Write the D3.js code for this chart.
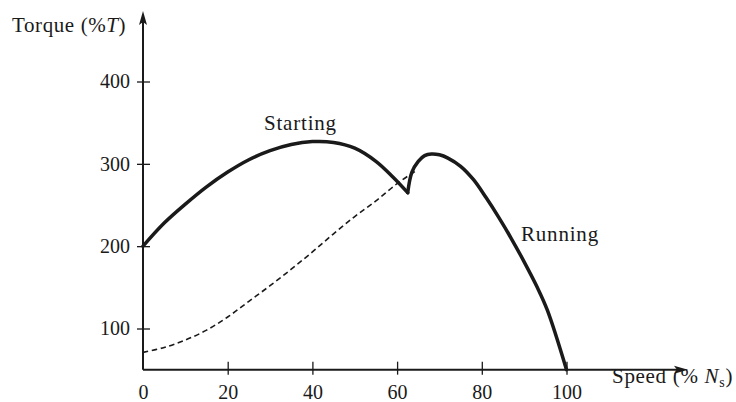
<!DOCTYPE html>
<html>
<head>
<meta charset="utf-8">
<script src="https://cdn.jsdelivr.net/npm/d3@7"></script>
<style>
  body { margin: 0; background: #fff; }
  text { font-family: 'Liberation Serif', 'Times New Roman', serif; fill: #1a1a1a; }
</style>
</head>
<body>
<div id="chart"></div>
<script>
// speed in % of synchronous speed, torque in % of rated torque
var startingSpeed  = [0, 5, 10, 15, 20, 25, 30, 35, 40, 45, 50, 55, 59, 62.5];
var startingTorque = [200, 228, 251, 272, 290, 305, 316, 323.5, 327, 326, 319, 303, 284, 265];

var runningSpeed  = [62.5, 63.5, 65, 66.5, 68.1, 70, 72, 75, 78, 81, 84, 87, 90, 93, 95.5, 100];
var runningTorque = [265, 290, 303, 310, 312, 311, 307, 297, 281, 259, 235, 209, 181, 151, 122, 50];

var dashedSpeed  = [0, 5, 10, 15, 20, 25, 30, 35, 40, 45, 50, 55, 60, 64.6];
var dashedTorque = [71, 77, 86, 98, 114, 133, 152, 172, 193, 215, 236, 255, 276, 292];

var xTicks = [0, 20, 40, 60, 80, 100];
var yTicks = [100, 200, 300, 400];

var width = 736,
  height = 402;

var x = d3.scaleLinear().domain([0, 100]).range([143, 566.5]);
var y = d3.scaleLinear().domain([100, 400]).range([328.5, 81.5]);

var axisY = y(50);   // x axis sits at 50 %T

var svg = d3.select('#chart').append('svg')
  .attr('width', width)
  .attr('height', height);

function zip(xs, ys) {
  return xs.map(function (d, i) { return [d, ys[i]]; });
}

var line = d3.line()
  .x(function (d) { return x(d[0]); })
  .y(function (d) { return y(d[1]); })
  .curve(d3.curveCatmullRom.alpha(0.5));

// axes lines + arrows
var ink = '#1a1a1a';
svg.append('line')
  .attr('x1', x(0)).attr('y1', axisY)
  .attr('x2', 680).attr('y2', axisY)
  .attr('stroke', ink).attr('stroke-width', 2);
svg.append('path')
  .attr('d', 'M688,' + axisY + 'L674,' + (axisY - 4) + 'L677,' + axisY + 'L674,' + (axisY + 4) + 'Z')
  .attr('fill', ink);

svg.append('line')
  .attr('x1', x(0)).attr('y1', axisY)
  .attr('x2', x(0)).attr('y2', 20)
  .attr('stroke', ink).attr('stroke-width', 2);
svg.append('path')
  .attr('d', 'M' + x(0) + ',11L' + (x(0) - 4) + ',25L' + x(0) + ',22L' + (x(0) + 4) + ',25Z')
  .attr('fill', ink);

// x axis ticks
var xAxis = d3.axisBottom(x)
  .tickValues(xTicks)
  .tickSize(5)
  .tickPadding(10)
  .tickFormat(d3.format('d'));

var gx = svg.append('g')
  .attr('transform', 'translate(0,' + axisY + ')')
  .call(xAxis);
gx.select('.domain').remove();
gx.selectAll('.tick line')
  .attr('y1', -8)
  .attr('stroke', ink)
  .attr('stroke-width', 1.3)
  .filter(function (d) { return d === 0; }).remove();
gx.selectAll('.tick text')
  .attr('font-size', 20)
  .attr('font-family', 'Liberation Serif')
  .attr('fill', ink);

// y axis ticks
var yAxis = d3.axisLeft(y)
  .tickValues(yTicks)
  .tickSize(6)
  .tickPadding(7);

var gy = svg.append('g')
  .attr('transform', 'translate(' + x(0) + ',0)')
  .call(yAxis);
gy.select('.domain').remove();
gy.selectAll('.tick line')
  .attr('x2', -6)
  .attr('x1', 7)
  .attr('stroke', ink)
  .attr('stroke-width', 1.3);
gy.selectAll('.tick text')
  .attr('font-size', 20)
  .attr('font-family', 'Liberation Serif')
  .attr('fill', ink);

// curves
svg.append('path')
  .datum(zip(dashedSpeed, dashedTorque))
  .attr('d', line)
  .attr('fill', 'none')
  .attr('stroke', ink)
  .attr('stroke-width', 1.6)
  .attr('stroke-dasharray', '5.5,3.5');

svg.append('path')
  .datum(zip(startingSpeed, startingTorque))
  .attr('d', line)
  .attr('fill', 'none')
  .attr('stroke', ink)
  .attr('stroke-width', 3.5)
  .attr('stroke-linecap', 'round');

svg.append('path')
  .datum(zip(runningSpeed, runningTorque))
  .attr('d', line)
  .attr('fill', 'none')
  .attr('stroke', ink)
  .attr('stroke-width', 3.5)
  .attr('stroke-linecap', 'round');

// labels
svg.append('text')
  .attr('x', 264).attr('y', 130)
  .attr('font-size', 21)
  .attr('letter-spacing', 0.8)
  .text('Starting');

svg.append('text')
  .attr('x', 521).attr('y', 241)
  .attr('font-size', 21)
  .attr('letter-spacing', 0.8)
  .text('Running');

var yl = svg.append('text')
  .attr('x', 12).attr('y', 32)
  .attr('font-size', 21)
  .attr('letter-spacing', 0.6);
yl.append('tspan').text('Torque (%');
yl.append('tspan').attr('font-style', 'italic').text('T');
yl.append('tspan').text(')');

var xl = svg.append('text')
  .attr('x', 612).attr('y', 383)
  .attr('font-size', 21)
  .attr('letter-spacing', 0.7);
xl.append('tspan').text('Speed (% ');
xl.append('tspan').attr('font-style', 'italic').text('N');
xl.append('tspan').attr('font-size', 14).attr('dy', 4).text('s');
xl.append('tspan').attr('dy', -4).text(')');
</script>
</body>
</html>
